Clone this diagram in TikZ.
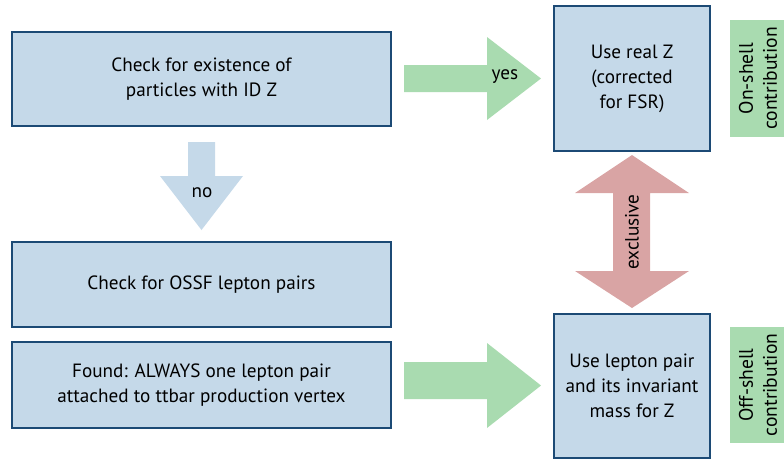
\documentclass[tikz,border=0pt]{standalone}
\usepackage{fontspec}
\setmainfont{PT Sans}
\definecolor{boxfill}{HTML}{C5D9E9}
\definecolor{boxline}{HTML}{1C4A75}
\definecolor{yesgreen}{HTML}{A9DBB0}
\definecolor{exclred}{HTML}{D9A4A4}
\tikzset{
  stepbox/.style={draw=boxline, line width=2.5pt, fill=boxfill, align=center,
    inner sep=0pt, font=\fontsize{19.2}{25}\selectfont},
  tagbox/.style={fill=yesgreen, align=center, inner sep=0pt, rotate=90,
    font=\fontsize{19.6}{24}\selectfont},
  arrowlabel/.style={font=\fontsize{19.2}{22}\selectfont},
}
\begin{document}
\begin{tikzpicture}[x=1pt,y=-1pt]
\useasboundingbox (0,0) rectangle (784,459);

% left column: decision steps
\node[stepbox, minimum width=379pt, minimum height=94pt] (exist) at (201.5,79)
  {Check for existence of\\particles with ID Z};
\node[stepbox, minimum width=379pt, minimum height=85pt] (ossf) at (201.5,284.5)
  {Check for OSSF lepton pairs};
\node[stepbox, minimum width=379pt, minimum height=86pt] (found) at (201.5,385)
  {Found: ALWAYS one lepton pair\\attached to ttbar production vertex};

% right column: outcomes
\node[stepbox, minimum width=156pt, minimum height=145pt] (realz) at (632,78.5)
  {Use real Z\\(corrected\\for FSR)};
\node[stepbox, minimum width=156pt, minimum height=144pt] (pairz) at (632,386)
  {Use lepton pair\\and its invariant\\mass for Z};

% contribution tags on the far right
\node[tagbox, minimum width=117pt, minimum height=56pt] (onshell) at (758,78.5)
  {On-shell\\contribution};
\node[tagbox, minimum width=116pt, minimum height=56pt] (offshell) at (758,385)
  {Off-shell\\contribution};

% "yes" block arrow
\fill[yesgreen] (404,65) -- (487,65) -- (487,37) -- (541,78.5) -- (487,120)
  -- (487,92) -- (404,92) -- cycle;
\node[arrowlabel] (yes) at (505,77) {yes};

% "no" block arrow
\fill[boxfill] (188,142) -- (215,142) -- (215,176) -- (243,176) -- (201.5,230)
  -- (160,176) -- (188,176) -- cycle;
\node[arrowlabel] (no) at (202,193) {no};

% lower block arrow
\fill[yesgreen] (404,362) -- (487,362) -- (487,343) -- (541,385.5) -- (487,428)
  -- (487,399) -- (404,399) -- cycle;

% "exclusive" double arrow
\fill[exclred] (632,155) -- (689,193) -- (650,193) -- (650,271) -- (689,271)
  -- (632,308) -- (575,271) -- (613,271) -- (613,193) -- (575,193) -- cycle;
\node[arrowlabel, rotate=90] (excl) at (632,232) {exclusive};
\end{tikzpicture}
\end{document}
